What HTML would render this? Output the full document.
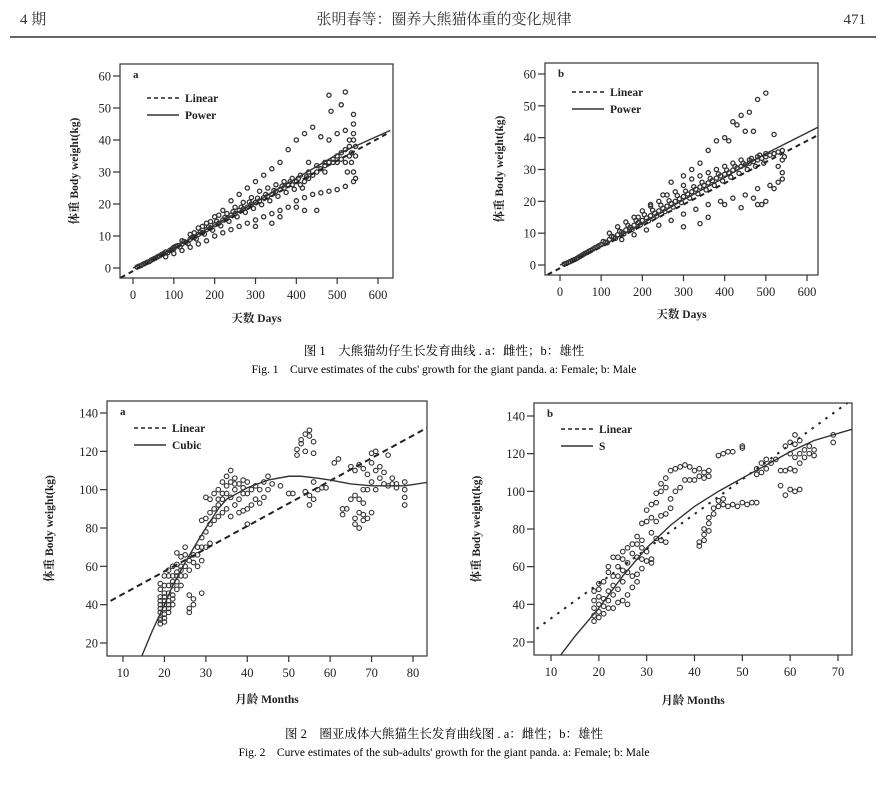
<!DOCTYPE html>
<html><head><meta charset="utf-8"><style>
html,body{margin:0;padding:0;background:#fff;}
svg{display:block;font-family:"Liberation Serif","Noto Serif CJK SC",serif;}
</style></head><body>
<svg id="page" width="888" height="785" viewBox="0 0 888 785" xmlns="http://www.w3.org/2000/svg">
<text x="20" y="24" font-size="15" fill="#333">4 期</text>
<text x="444" y="24" font-size="15" fill="#333" text-anchor="middle">张明春等：圈养大熊猫体重的变化规律</text>
<text x="866" y="24" font-size="15" fill="#333" text-anchor="end">471</text>
<line x1="10" y1="37" x2="876" y2="37" stroke="#333" stroke-width="1.5"/>
<text x="444" y="355" font-size="12.5" text-anchor="middle">图 1　大熊猫幼仔生长发育曲线 . a：雌性；b：雄性</text>
<text x="444" y="373" font-size="11.5" text-anchor="middle">Fig. 1　Curve estimates of the cubs' growth for the giant panda. a: Female; b: Male</text>
<text x="444" y="738" font-size="12.5" text-anchor="middle">图 2　圈亚成体大熊猫生长发育曲线图 . a：雌性；b：雄性</text>
<text x="444" y="756" font-size="11.5" text-anchor="middle">Fig. 2　Curve estimates of the sub-adults' growth for the giant panda. a: Female; b: Male</text>
</svg>
<script>
const NS='http://www.w3.org/2000/svg';
const svg=document.getElementById('page');
// ---- data ----
const cubXTicks=[0,100,200,300,400,500,600];
const cubYTicks=[0,10,20,30,40,50,60];
const subAXTicks=[10,20,30,40,50,60,70,80];
const subBXTicks=[10,20,30,40,50,60,70];
const subYTicks=[20,40,60,80,100,120,140];
const cubFemalePoints=[[10,0.3],[20,0.8],[30,1.5],[40,2],[50,2.8],[60,3.5],[70,4.2],[80,5],[90,5.5],[100,6],[110,7],[120,7.5],[130,8],[140,9],[150,9.5],[160,10.5],[170,11],[180,12],[190,12.5],[200,13.5],[210,14],[220,15],[230,15.5],[240,16.5],[250,17],[260,18],[270,18.5],[280,19],[290,20],[300,20.5],[310,21],[320,22],[330,22.5],[340,23],[350,24],[360,24.5],[370,25],[380,26],[390,26],[400,27],[410,26],[420,27],[430,28],[440,29],[450,30],[460,31],[470,32],[480,33],[490,34],[500,35],[510,36],[520,37],[530,38],[540,40],
[80,3.5],[100,4.5],[120,5.5],[140,6.5],[160,7.5],[180,8.5],[200,10],[220,11],[240,12],[260,13],[280,14],[300,15],[320,16],[340,17],[360,18],[380,19],[400,21],[420,22],[440,23],[460,23.5],[480,24],[500,24.5],[520,25.5],[540,27],[545,28],
[100,6.5],[120,8.5],[140,10.5],[160,12.5],[180,14],[200,16],[220,18],[240,21],[260,23],[280,25],[300,27],[320,29],[340,31],[360,33],[380,37],[400,40],[420,42],[440,44],[460,41],[480,40],[500,42],[520,43],[540,45],[510,51],[520,55],[480,54],[540,48],[485,49],
[300,13],[340,14],[360,16],[420,18],[450,18],[400,19],[430,33],[470,30],[500,33],[540,30],[530,35],[545,38],[535,33],[150,11],[170,13],[190,14.5],[210,16.5],[230,17],[250,19],[270,20.5],[290,22],[310,24],[330,25],[350,26],[370,27],[390,28],[410,29],[430,30],[450,32],[470,33],[490,33],[510,34],
[15,0.6],[25,1.2],[35,1.8],[45,2.5],[55,3.1],[65,3.8],[75,4.5],[85,4.8],[95,5.9],[105,6.8],[115,6.6],[125,8.3],[135,7.6],[145,9.6],[155,9.1],[165,11.2],[175,10.6],[185,12.8],[195,11.8],[205,14.6],[215,13.2],[225,15.8],[235,14.6],[245,17.6],[255,16],[265,19],[275,17.4],[285,20.6],[295,18.6],[305,21.8],[315,19.8],[325,23],[335,21],[345,24.2],[355,22.4],[365,25.6],[375,23.6],[385,27],[395,24.6],[405,28],[415,25],[425,28.5],[535,36],[540,42],[545,35],[530,40],[520,33],[525,30]];
const cubFemaleLinear=[[-30,-3],[630,42.5]];
const cubFemalePower=[[0,0],[100,6.2],[200,13.5],[300,20.5],[400,28],[500,35.5],[630,43]];
const cubMalePoints=[[10,0.3],[20,0.8],[30,1.4],[40,2],[50,2.8],[60,3.6],[70,4.3],[80,5],[90,5.7],[100,6.4],[110,7.2],[120,8],[130,8.8],[140,9.5],[150,10.3],[160,11],[170,11.8],[180,12.5],[190,13.3],[200,14],[210,14.8],[220,15.5],[230,16.3],[240,17],[250,17.8],[260,18.5],[270,19.3],[280,20],[290,20.8],[300,21.5],[310,22.3],[320,23],[330,23.8],[340,24.5],[350,25],[360,25.8],[370,26.5],[380,27.3],[390,28],[400,28.5],[410,29],[420,29.8],[430,30.5],[440,31],[450,31.5],[460,32],[470,32.5],[480,33],[490,33.5],[500,34],[510,34.5],[520,35],[530,35.5],[540,36],
[120,10],[140,12],[160,13.5],[180,15],[200,17],[220,18.5],[240,20],[260,22],[280,23],[300,25],[320,27],[340,28],[360,29],[380,30],[400,31],[420,32],[440,33],[460,33],[480,34],[500,35],[520,35],
[150,8],[180,9.5],[210,11],[240,12.5],[270,14],[300,16],[330,17.5],[360,19],[390,20],[420,21],[450,22],[480,24],[510,25],[540,27],[520,24],[500,20],[470,21],[480,19],[490,19],[530,26],[540,29],
[190,15],[220,19],[250,22],[270,26],[300,28],[320,30],[340,32],[360,36],[380,39],[400,40],[420,45],[440,47],[460,48],[480,52],[500,54],[430,44],[450,42],[410,39],[470,42],[520,41],[300,12],[340,13],[360,15],[400,19],[440,18],[540,33],[530,31],[545,34],
[15,0.5],[25,1.1],[35,1.7],[45,2.4],[55,3.2],[65,3.9],[75,4.6],[85,5.4],[95,6.1],[105,7.4],[115,7],[125,9],[135,8.4],[145,10.6],[155,9.8],[165,12.4],[175,11.2],[185,14],[195,12.6],[205,15.8],[215,13.9],[225,17.2],[235,15.4],[245,18.8],[255,16.8],[265,20.2],[275,18.2],[285,21.8],[295,19.6],[305,23.2],[315,21],[325,24.6],[335,22.4],[345,26],[355,23.6],[365,27.2],[375,25],[385,28.6],[395,26.4],[405,29.8],[415,27.6],[425,31],[435,28.8],[445,32],[455,30],[465,33.5],[475,31],[485,34.5],[495,32]];
const cubMaleLinear=[[-30,-3],[630,41]];
const cubMalePower=[[0,0],[100,5.8],[200,13],[300,20.5],[400,27.5],[500,35],[630,43.5]];
const subFemalePoints=[[19,30],[19,33],[19,36],[19,40],[19,44],[19,48],[19,51],[20,31],[20,35],[20,38],[20,42],[20,46],[20,50],[20,55],[21,38],[21,42],[21,46],[21,50],[21,55],[21,58],[22,40],[22,45],[22,50],[22,55],[22,60],[23,48],[23,52],[23,57],[23,61],[23,67],[24,50],[24,55],[24,60],[24,65],[25,55],[25,60],[25,66],[25,70],[26,36],[26,38],[26,45],[26,58],[26,63],[27,40],[27,43],[27,62],[27,66],[28,60],[28,66],[28,70],[29,46],[29,63],[29,70],[29,75],[29,84],[30,70],[30,78],[30,85],[30,96],[31,72],[31,82],[31,88],[31,95],[32,84],[32,90],[32,98],[33,86],[33,92],[33,100],[34,88],[34,95],[34,104],[35,90],[35,98],[35,107],[36,86],[36,96],[36,104],[36,110],[37,92],[37,100],[37,106],[38,88],[38,95],[38,103],[39,89],[39,98],[39,105],[40,82],[40,90],[40,98],[40,104],[41,92],[41,100],[42,95],[42,102],[43,93],[43,100],[44,96],[44,104],[45,100],[45,107],[46,103],[48,102],[50,98],[51,98],[52,118],[52,121],[53,124],[53,126],[54,120],[54,129],[55,128],[55,131],[56,125],[56,119],[54,99],[55,92],[55,97],[56,95],[56,104],[57,100],[58,101],[59,101],[61,114],[62,116],[63,87],[63,90],[64,90],[65,95],[65,112],[66,82],[66,85],[66,97],[66,110],[67,80],[67,88],[67,95],[67,113],[68,84],[68,87],[68,93],[68,100],[68,111],[69,85],[69,100],[69,108],[70,88],[70,104],[70,114],[70,119],[71,100],[71,110],[71,120],[72,106],[72,112],[73,103],[73,109],[74,102],[74,118],[75,103],[75,106],[76,103],[76,101],[78,92],[78,96],[78,100],[78,104],
[19,32],[19,38],[19,42],[20,33],[20,40],[20,44],[21,36],[21,40],[22,43],[22,52],[23,55],[24,58],[33,95],[34,98],[35,102],[37,103],[39,101]];
const subFemaleLinear=[[7,42],[84,133]];
const subFemaleCubic=[[14.5,13],[17,26],[20,40],[22,50],[25,62],[28,73],[30,80],[33,90],[35,95],[40,101],[45,105],[50,107],[53,107],[57,106],[60,105],[65,103],[70,102],[75,102],[78,102],[84,104]];
const subMalePoints=[[19,31],[19,34],[19,38],[19,42],[19,47],[20,33],[20,36],[20,40],[20,44],[20,48],[20,51],[21,35],[21,39],[21,43],[21,52],[22,38],[22,42],[22,47],[22,57],[22,60],[23,38],[23,45],[23,50],[23,55],[23,65],[24,41],[24,48],[24,55],[24,60],[24,65],[25,42],[25,52],[25,58],[25,64],[25,68],[26,40],[26,45],[26,57],[26,62],[26,70],[27,49],[27,55],[27,67],[27,72],[28,52],[28,56],[28,65],[28,72],[28,76],[29,59],[29,64],[29,70],[29,74],[29,83],[30,63],[30,68],[30,84],[30,90],[31,62],[31,64],[31,78],[31,86],[31,93],[32,75],[32,84],[32,94],[32,99],[33,74],[33,87],[33,100],[33,104],[34,73],[34,88],[34,102],[34,107],[35,91],[35,96],[35,111],[36,100],[36,112],[37,102],[37,113],[38,106],[38,114],[39,106],[39,113],[40,106],[40,111],[41,108],[41,112],[42,107],[42,110],[43,108],[43,111],[41,71],[41,73],[42,74],[42,77],[42,80],[43,79],[43,83],[43,86],[44,88],[44,91],[45,92],[45,95],[46,93],[46,96],[47,92],[48,93],[49,92],[50,94],[51,93],[52,94],[53,94],[45,119],[46,120],[47,121],[48,121],[50,123],[50,124],[53,109],[53,112],[54,110],[54,115],[55,112],[55,117],[56,115],[57,117],[58,111],[58,103],[59,98],[59,111],[59,124],[60,101],[60,112],[60,120],[60,126],[61,100],[61,111],[61,118],[61,125],[61,130],[62,101],[62,115],[62,120],[62,127],[63,118],[63,122],[64,120],[64,124],[65,119],[65,122],[69,126],[69,130]];
const subMaleLinear=[[7,27],[72,147]];
const subMaleS=[[12,13],[15,23],[20,38],[25,55],[30,70],[35,82],[40,92],[45,100],[50,107],[55,114],[60,121],[65,127],[73,133]];

// ---- charts config (layout only) ----
const charts=[
 {id:'fig1a',label:'a',box:[120,64,393,278],x0:0,x1:600,px0:133,px1:378,y0:0,y1:60,py0:268,py1:76,xt:cubXTicks,yt:cubYTicks,pts:cubFemalePoints,lin:cubFemaleLinear,fit:cubFemalePower,fitName:'Power',xTitle:'天数 Days',ytx:78,xty:322,r:2.1,sw:1.3,dash:'5,4',legY:98},
 {id:'fig1b',label:'b',box:[545,63,818,275],x0:0,x1:600,px0:560,px1:807,y0:0,y1:60,py0:265,py1:74,xt:cubXTicks,yt:cubYTicks,pts:cubMalePoints,lin:cubMaleLinear,fit:cubMalePower,fitName:'Power',xTitle:'天数 Days',ytx:503,xty:318,r:2.1,sw:1.3,dash:'5,4',legY:92},
 {id:'fig2a',label:'a',box:[107,401,427,656],x0:10,x1:80,px0:123,px1:413,y0:20,y1:140,py0:643,py1:413,xt:subAXTicks,yt:subYTicks,pts:subFemalePoints,lin:subFemaleLinear,fit:subFemaleCubic,fitName:'Cubic',xTitle:'月龄 Months',ytx:53,xty:703,r:2.3,sw:1.1,dash:'6,4',legY:428},
 {id:'fig2b',label:'b',box:[534,403,852,655],x0:10,x1:70,px0:551,px1:838,y0:20,y1:140,py0:642,py1:416,xt:subBXTicks,yt:subYTicks,pts:subMalePoints,lin:subMaleLinear,fit:subMaleS,fitName:'S',xTitle:'月龄 Months',ytx:480,xty:704,r:2.3,sw:1.1,dash:'2.5,6',legY:429}
];
function el(tag,attrs,parent){const e=document.createElementNS(NS,tag);for(const k in attrs)e.setAttribute(k,attrs[k]);(parent||svg).appendChild(e);return e;}
charts.forEach(c=>{
 const sx=v=>c.px0+(v-c.x0)*(c.px1-c.px0)/(c.x1-c.x0);
 const sy=v=>c.py0+(v-c.y0)*(c.py1-c.py0)/(c.y1-c.y0);
 const [bx0,by0,bx1,by1]=c.box;
 const g=el('g',{});
 
 
 const cid='clip-'+c.id;
 const cp=el('clipPath',{id:cid},g);el('rect',{x:bx0,y:by0,width:bx1-bx0,height:by1-by0},cp);
 const frame=el('rect',{x:bx0,y:by0,width:bx1-bx0,height:by1-by0,fill:'none',stroke:'#333','stroke-width':1.2},g);
 
 
 c.xt.forEach(t=>{const x=sx(t);
  const tk=el('line',{x1:x,y1:by1,x2:x,y2:by1+6,stroke:'#333','stroke-width':1.2},g);
  
  
  const tl=el('text',{x:x,y:by1+21,'font-size':12.5,'text-anchor':'middle',fill:'#222'},g);tl.textContent=t;
  
  });
 c.yt.forEach(t=>{const y=sy(t);
  const tk=el('line',{x1:bx0-7,y1:y,x2:bx0,y2:y,stroke:'#333','stroke-width':1.2},g);
  
  
  const tl=el('text',{x:bx0-9,y:y+4.5,'font-size':12.5,'text-anchor':'end',fill:'#222'},g);tl.textContent=t;
  
  });
 const xt=el('text',{x:(bx0+bx1)/2,y:c.xty,'font-size':11.5,'font-weight':'bold','text-anchor':'middle',fill:'#222'},g);xt.textContent=c.xTitle;
 
 
 const ym=(by0+by1)/2;
 const yt=el('text',{x:c.ytx,y:ym,'font-size':11.5,'font-weight':'bold','text-anchor':'middle',fill:'#222',transform:`rotate(-90 ${c.ytx} ${ym})`},g);yt.textContent='体重 Body weight(kg)';
 
 
 const pg=el('g',{'clip-path':`url(#${cid})`},g);
 c.pts.forEach(p=>{const d=el('circle',{cx:sx(p[0]),cy:sy(p[1]),r:c.r,fill:'none',stroke:'#333','stroke-width':c.sw},pg);
  
  });
 const lin=el('polyline',{points:c.lin.map(p=>sx(p[0])+','+sy(p[1])).join(' '),fill:'none',stroke:'#222','stroke-width':2,'stroke-dasharray':c.dash},pg);
 
 
 const fit=el('polyline',{points:c.fit.map(p=>sx(p[0])+','+sy(p[1])).join(' '),fill:'none',stroke:'#333','stroke-width':1.4},pg);
 
 
 const lab=el('text',{x:bx0+13,y:by0+14,'font-size':11,'font-weight':'bold',fill:'#222'},g);lab.textContent=c.label;
 
 
 const lx=bx0+27,ly=c.legY;
 const l1=el('line',{x1:lx,y1:ly,x2:lx+32,y2:ly,stroke:'#222','stroke-width':1.6,'stroke-dasharray':'4,3'},g);
 
 
 const t1=el('text',{x:lx+38,y:ly+4,'font-size':11.5,'font-weight':'bold',fill:'#222'},g);t1.textContent='Linear';
 
 
 const l2=el('line',{x1:lx,y1:ly+17,x2:lx+32,y2:ly+17,stroke:'#333','stroke-width':1.4},g);
 
 
 const t2=el('text',{x:lx+38,y:ly+21,'font-size':11.5,'font-weight':'bold',fill:'#222'},g);t2.textContent=c.fitName;
 
 
});
</script>
</body></html>
